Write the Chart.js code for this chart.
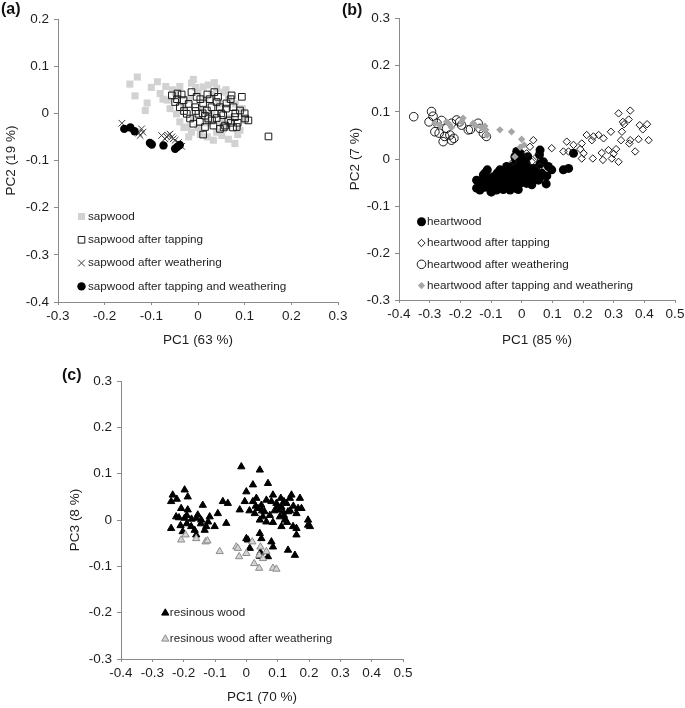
<!DOCTYPE html>
<html>
<head>
<meta charset="utf-8">
<script src="https://cdn.jsdelivr.net/npm/chart.js@4.4.1/dist/chart.umd.min.js"></script>
<style>
  body { margin: 0; background: #fff; width: 685px; height: 708px; position: relative; overflow: hidden; }
  canvas { position: absolute; }
  .tag { position: absolute; font: bold 16px "Liberation Sans", Arial, sans-serif; line-height: 16px; color: #111; }
</style>
</head>
<body>
<canvas id="chartA" width="355" height="355" style="left:0;top:0"></canvas>
<canvas id="chartB" width="345" height="355" style="left:340px;top:0"></canvas>
<canvas id="chartC" width="360" height="338" style="left:60px;top:370px"></canvas>
<div class="tag" style="left:1px;top:1px">(a)</div>
<div class="tag" style="left:342px;top:2px">(b)</div>
<div class="tag" style="left:62px;top:367px">(c)</div>

<script>
// tick labels
const ticksA_x = [-0.3, -0.2, -0.1, 0, 0.1, 0.2, 0.3];
const ticksA_y = [-0.4, -0.3, -0.2, -0.1, 0, 0.1, 0.2];
const ticksB_x = [-0.4, -0.3, -0.2, -0.1, 0, 0.1, 0.2, 0.3, 0.4, 0.5];
const ticksB_y = [-0.3, -0.2, -0.1, 0, 0.1, 0.2, 0.3];
const ticksC_x = [-0.4, -0.3, -0.2, -0.1, 0, 0.1, 0.2, 0.3, 0.4, 0.5];
const ticksC_y = [-0.3, -0.2, -0.1, 0, 0.1, 0.2, 0.3];

// (a) sapwood, [PC1, PC2]
const sapwood = [[-0.130,0.077],[-0.146,0.062],[-0.135,0.037],[-0.109,0.022],[-0.113,0.006],[-0.087,0.067],[-0.081,0.042],
  [-0.069,0.057],[-0.066,0.028],[-0.049,0.045],[-0.039,0.057],[-0.014,0.064],[-0.010,0.072],[0.011,0.056],[0.022,0.060],
  [0.040,0.053],[-0.039,-0.018],[-0.024,-0.029],[-0.014,-0.040],[0.033,-0.057],[0.051,-0.047],[0.079,-0.064],[0.090,-0.036],
  [0.100,-0.015],[0.095,0.010],[-0.046,-0.001],[-0.031,0.013],[-0.020,0.030],[0.000,0.045],[0.030,0.040],[0.055,0.045],
  [0.065,0.030],[0.080,0.020],[0.070,-0.010],[0.060,-0.030],[0.040,-0.040],[0.020,-0.050],[0.000,-0.030],[-0.010,-0.010],
  [0.010,0.010],[0.030,0.000],[0.050,-0.020],[0.020,-0.020],[-0.030,-0.030],[-0.060,0.010],[-0.055,0.050],[-0.100,0.055],
  [-0.075,0.030],[0.045,0.020],[0.085,-0.045],[0.065,-0.055],[0.015,0.030],[-0.005,0.055],[0.035,0.065],[0.060,0.050],
  [-0.020,-0.050],[0.005,-0.045]];
const sapwoodTapped = [[-0.056,0.038],[-0.044,0.042],[-0.049,0.024],[-0.039,0.013],[-0.031,0.028],[-0.014,0.045],[-0.024,-0.001],
  [-0.017,-0.011],[-0.006,0.013],[0.001,-0.001],[0.004,-0.018],[0.011,0.021],[0.019,0.006],[0.022,-0.011],[0.033,-0.026],
  [0.043,0.035],[0.047,0.013],[0.054,-0.004],[0.058,-0.026],[0.072,0.038],[0.076,0.013],[0.079,-0.008],[0.083,-0.029],
  [0.094,0.035],[0.101,-0.011],[0.108,-0.015],[0.151,-0.049],[0.011,-0.045],[0.040,0.024],[0.061,0.021],[0.029,0.013],
  [-0.003,0.035],[0.036,-0.001],[0.065,-0.015],[0.090,0.006],[-0.010,-0.022],[0.015,-0.029],[0.047,-0.033],[-0.045,0.030],
  [-0.035,0.040],[-0.020,0.020],[0.005,0.030],[0.025,0.030],[0.030,-0.015],[0.050,0.000],[0.070,-0.020],[0.085,-0.020],
  [0.060,0.010],[0.080,0.000],[-0.005,0.005],[0.015,-0.005],[0.040,-0.010],[0.055,-0.030],[0.075,-0.030],[0.020,0.040],
  [0.010,0.000],[-0.030,0.005],[0.100,0.000],[0.070,0.030],[0.035,0.045]];
const sapwoodWeathered = [[-0.163,-0.021],[-0.121,-0.033],[-0.124,-0.047],[-0.127,-0.042],[-0.078,-0.047],[-0.071,-0.054],
  [-0.064,-0.047],[-0.067,-0.050],[-0.056,-0.050],[-0.060,-0.044],[-0.049,-0.057],[-0.042,-0.062],[-0.035,-0.070],
  [-0.118,-0.040],[-0.053,-0.054]];
const sapwoodBoth = [[-0.158,-0.033],[-0.145,-0.030],[-0.136,-0.038],[-0.103,-0.063],[-0.099,-0.066],[-0.074,-0.068],
  [-0.049,-0.075],[-0.044,-0.071],[-0.039,-0.067]];

// (b) heartwood, [PC1, PC2]
const heartwood = [[-0.147,-0.045],[-0.136,-0.066],[-0.112,-0.023],[-0.098,-0.070],[-0.082,-0.066],[-0.114,-0.048],
  [-0.093,-0.038],[-0.071,-0.023],[-0.060,-0.045],[-0.038,-0.066],[-0.011,-0.065],[-0.016,0.016],[-0.022,0.005],
  [-0.005,0.012],[0.011,0.001],[0.033,-0.020],[0.038,-0.041],[0.060,0.019],[0.058,0.009],[0.071,-0.006],[0.087,-0.016],
  [0.098,-0.023],[0.082,-0.036],[0.136,-0.023],[0.153,-0.020],[0.169,0.012],[-0.049,-0.016],[-0.033,-0.030],[-0.022,-0.045],
  [0.000,-0.038],[0.016,-0.052],[0.005,-0.023],[-0.011,-0.013],[-0.071,-0.052],[-0.054,-0.059],[-0.087,-0.055],
  [-0.103,-0.045],[-0.125,-0.034],[-0.060,-0.030],[-0.044,-0.041],[-0.027,-0.023],[-0.011,-0.027],[0.022,-0.030],
  [0.033,-0.055],[0.049,-0.034],[0.065,-0.030],[-0.005,-0.052],[-0.022,-0.062],[-0.147,-0.062],[-0.130,-0.050],
  [-0.120,-0.060],[-0.110,-0.040],[-0.100,-0.055],[-0.090,-0.045],[-0.080,-0.030],[-0.075,-0.060],[-0.065,-0.040],
  [-0.055,-0.050],[-0.050,-0.025],[-0.045,-0.060],[-0.040,-0.035],[-0.035,-0.050],[-0.030,-0.015],[-0.025,-0.040],
  [-0.015,-0.050],[-0.010,-0.035],[-0.005,-0.020],[0.005,-0.045],[0.010,-0.030],[0.015,-0.010],[0.025,-0.040],
  [0.030,-0.025],[0.045,-0.020],[0.055,-0.045],[0.060,-0.010],[0.070,-0.035],[-0.060,-0.065],[-0.100,-0.070],
  [-0.120,-0.030],[0.000,0.000],[-0.020,0.000],[0.020,0.005],[0.080,-0.053]];
const heartwoodTapped = [[0.316,0.097],[0.354,0.103],[0.330,0.079],[0.349,0.084],[0.334,0.074],[0.385,0.072],[0.409,0.074],
  [0.395,0.063],[0.414,0.040],[0.381,0.042],[0.354,0.040],[0.324,0.040],[0.351,0.033],[0.291,0.058],[0.267,0.044],
  [0.251,0.051],[0.234,0.048],[0.212,0.051],[0.229,0.040],[0.196,0.033],[0.169,0.030],[0.147,0.037],[0.136,0.016],
  [0.153,0.016],[0.191,0.021],[0.202,0.012],[0.196,0.001],[0.232,0.001],[0.261,0.013],[0.283,0.019],[0.265,-0.002],
  [0.300,0.011],[0.308,0.021],[0.316,-0.006],[0.294,0.001],[0.370,0.016],[0.327,0.058],[0.098,0.023],[0.038,0.040],
  [0.027,0.026],[0.049,0.005],[0.016,0.012],[0.033,-0.006],[-0.027,-0.006],[0.060,-0.016]];
const heartwoodWeathered = [[-0.352,0.090],[-0.294,0.101],[-0.289,0.091],[-0.302,0.079],[-0.276,0.076],[-0.261,0.082],
  [-0.269,0.055],[-0.256,0.037],[-0.234,0.051],[-0.229,0.040],[-0.221,0.044],[-0.245,0.065],[-0.229,0.076],[-0.202,0.079],
  [-0.196,0.072],[-0.174,0.062],[-0.167,0.063],[-0.142,0.076],[-0.136,0.065],[-0.283,0.058],[-0.251,0.048],[-0.212,0.083],
  [-0.115,0.048],[-0.125,0.055]];
const heartwoodBoth = [[-0.283,0.076],[-0.267,0.072],[-0.245,0.079],[-0.236,0.074],[-0.229,0.067],[-0.191,0.087],
  [-0.196,0.079],[-0.158,0.076],[-0.149,0.070],[-0.131,0.067],[-0.120,0.070],[-0.117,0.062],[-0.112,0.051],[-0.071,0.062],
  [-0.033,0.058],[0.000,0.042],[0.008,0.030],[-0.005,0.025],[-0.022,0.005]];

// (c) resinous wood, [PC1, PC3]
const resinous = [[-0.235,0.054],[-0.240,0.040],[-0.222,0.045],[-0.197,0.065],[-0.187,0.050],[-0.208,0.025],[-0.224,0.007],
  [-0.197,0.004],[-0.190,0.010],[-0.187,0.022],[-0.240,-0.018],[-0.203,-0.025],[-0.210,-0.012],[-0.176,-0.014],
  [-0.160,0.004],[-0.155,0.011],[-0.165,-0.022],[-0.160,-0.032],[-0.139,0.032],[-0.144,0.000],[-0.133,-0.022],
  [-0.128,-0.014],[-0.117,0.007],[-0.122,-0.004],[-0.101,-0.014],[-0.091,0.014],[-0.075,0.040],[-0.059,0.036],
  [-0.064,-0.007],[-0.016,0.115],[-0.021,0.022],[0.000,0.061],[-0.005,0.040],[0.000,-0.040],[0.005,-0.043],[0.011,-0.061],
  [0.021,0.040],[0.021,0.076],[0.027,0.014],[0.032,0.047],[0.037,0.025],[0.043,0.108],[0.043,0.000],[0.048,0.032],
  [0.053,0.007],[0.058,0.018],[0.064,0.043],[0.069,0.079],[0.080,0.040],[0.085,0.054],[0.080,-0.047],[0.085,-0.058],
  [0.069,-0.079],[0.043,-0.029],[0.048,-0.040],[0.096,0.036],[0.101,0.022],[0.107,0.007],[0.112,-0.014],[0.123,0.000],
  [0.128,0.036],[0.139,0.047],[0.144,0.054],[0.133,0.018],[0.149,-0.014],[0.160,0.014],[0.165,0.025],[0.171,0.047],
  [0.176,0.025],[0.160,-0.018],[0.160,-0.032],[0.133,-0.065],[0.155,-0.076],[0.197,0.000],[0.197,-0.011],[0.203,-0.014],
  [0.112,0.028],[0.117,0.018],[0.064,-0.004],[0.075,0.010],[0.090,0.020],[0.100,0.030],[0.120,0.010],[0.050,0.020],
  [0.030,0.030],[0.010,0.020],[0.045,-0.070],[0.043,-0.078],[-0.190,-0.008],[-0.215,0.005],[-0.175,0.002],[-0.145,-0.008],
  [0.120,0.040],[0.110,0.047],[0.150,0.030],[0.140,0.020],[0.085,-0.005],[0.130,-0.005]];
const resinousWeathered = [[-0.208,-0.043],[-0.194,-0.032],[-0.160,-0.040],[-0.130,-0.047],[-0.124,-0.045],[-0.085,-0.068],
  [-0.032,-0.058],[-0.027,-0.061],[-0.023,-0.079],[0.000,-0.072],[0.019,-0.047],[0.025,-0.094],[0.041,-0.104],
  [0.045,-0.058],[0.041,-0.076],[0.053,-0.083],[0.064,-0.068],[0.085,-0.104],[0.096,-0.106]];

const FONT = '"Liberation Sans", Arial, sans-serif';
const INK = '#1e1e1e';
const AXIS = '#8a8a8a';
const CLEAR = 'rgba(0,0,0,0)';

function fmt(v) { return Math.abs(v) < 1e-9 ? '0' : v.toFixed(1); }

// axis with fixed box size so the plot area lands where the figure has it
function axis(ticks, title, isX, size, titlePad) {
  return {
    type: 'linear',
    position: isX ? 'bottom' : 'left',
    min: ticks[0],
    max: ticks[ticks.length - 1],
    afterBuildTicks: s => { s.ticks = ticks.map(v => ({ value: v })); },
    afterFit: s => {
      if (isX) s.height = size; else s.width = size;
      s.paddingLeft = s.paddingRight = s.paddingTop = s.paddingBottom = 0;
    },
    border: { display: true, color: AXIS, width: 1 },
    grid: { drawOnChartArea: false, drawTicks: true, tickLength: isX ? 3 : 4, color: AXIS, lineWidth: 1 },
    ticks: { color: INK, font: { family: FONT, size: 13.5 }, padding: isX ? 3 : 5, autoSkip: false, maxRotation: 0, callback: v => fmt(v) },
    title: { display: true, text: title, color: INK, font: { family: FONT, size: 13.5 }, padding: { top: titlePad, bottom: titlePad } }
  };
}

function series(label, pts, style, radius, fill, stroke, bw, order) {
  return {
    label,
    data: pts.map(([x, y]) => ({ x, y })),
    pointStyle: style,
    pointRadius: radius,
    pointHoverRadius: radius,
    backgroundColor: fill,
    borderColor: stroke,
    borderWidth: bw,
    order
  };
}

// legend drawn inside the plot area, one row per dataset
const insideLegend = {
  id: 'insideLegend',
  afterDraw(chart, args, opts) {
    const { ctx, chartArea } = chart;
    ctx.save();
    chart.data.datasets.forEach((ds, i) => {
      const x = chartArea.left + opts.left;
      const y = chartArea.top + opts.top + i * opts.gap;
      ctx.fillStyle = ds.backgroundColor;
      ctx.strokeStyle = ds.borderColor;
      ctx.lineWidth = ds.borderWidth;
      Chart.helpers.drawPoint(ctx, { pointStyle: ds.pointStyle, radius: ds.pointRadius, borderWidth: ds.borderWidth, rotation: 0 }, x, y);
      ctx.fillStyle = INK;
      ctx.font = '11.7px ' + FONT;
      ctx.textBaseline = 'middle';
      ctx.textAlign = 'left';
      ctx.fillText(ds.label, x + opts.textGap, y);
    });
    ctx.restore();
  }
};

function makeChart(id, datasets, scales, padding, legend) {
  return new Chart(document.getElementById(id), {
    type: 'scatter',
    data: { datasets },
    options: {
      responsive: false,
      animation: false,
      events: [],
      layout: { padding },
      scales,
      plugins: { legend: { display: false }, tooltip: { enabled: false }, insideLegend: legend }
    },
    plugins: [insideLegend]
  });
}

makeChart('chartA', [
  series('sapwood', sapwood, 'rect', 5, '#d2d2d2', '#d2d2d2', 0, 3),
  series('sapwood after tapping', sapwoodTapped, 'rect', 4.7, CLEAR, '#1a1a1a', 1, 2),
  series('sapwood after weathering', sapwoodWeathered, 'crossRot', 4.7, CLEAR, '#3a3a3a', 1, 1),
  series('sapwood after tapping and weathering', sapwoodBoth, 'circle', 4.2, '#000', '#000', 0, 0)
], {
  x: axis(ticksA_x, 'PC1 (63 %)', true, 53, 7),
  y: axis(ticksA_y, 'PC2 (19 %)', false, 58, 3)
}, { left: 0, top: 19, right: 17, bottom: 0 }, { left: 23.5, top: 197.5, gap: 23.3, textGap: 6.5 });

makeChart('chartB', [
  series('heartwood', heartwood, 'circle', 4.5, '#000', '#000', 0, 3),
  series('heartwood after tapping', heartwoodTapped, 'rectRot', 3.7, CLEAR, '#1a1a1a', 1, 2),
  series('heartwood after weathering', heartwoodWeathered, 'circle', 4.3, CLEAR, '#1a1a1a', 1, 1),
  series('heartwood after tapping and weathering', heartwoodBoth, 'rectRot', 3.7, '#a6a6a6', '#a6a6a6', 0, 0)
], {
  x: axis(ticksB_x, 'PC1 (85 %)', true, 55, 7),
  y: axis(ticksB_y, 'PC2 (7 %)', false, 59, 7)
}, { left: 0, top: 18, right: 10, bottom: 0 }, { left: 22.5, top: 203.7, gap: 21.3, textGap: 5.5 });

makeChart('chartC', [
  series('resinous wood', resinous, 'triangle', 4.2, '#000', '#000', 1, 1),
  series('resinous wood after weathering', resinousWeathered, 'triangle', 4.2, '#d4d4d4', '#8c8c8c', 1, 0)
], {
  x: axis(ticksC_x, 'PC1 (70 %)', true, 49, 3),
  y: axis(ticksC_y, 'PC3 (8 %)', false, 61, 7)
}, { left: 0, top: 11, right: 17, bottom: 0 }, { left: 44.3, top: 232, gap: 26, textGap: 4.5 });
</script>
</body>
</html>
